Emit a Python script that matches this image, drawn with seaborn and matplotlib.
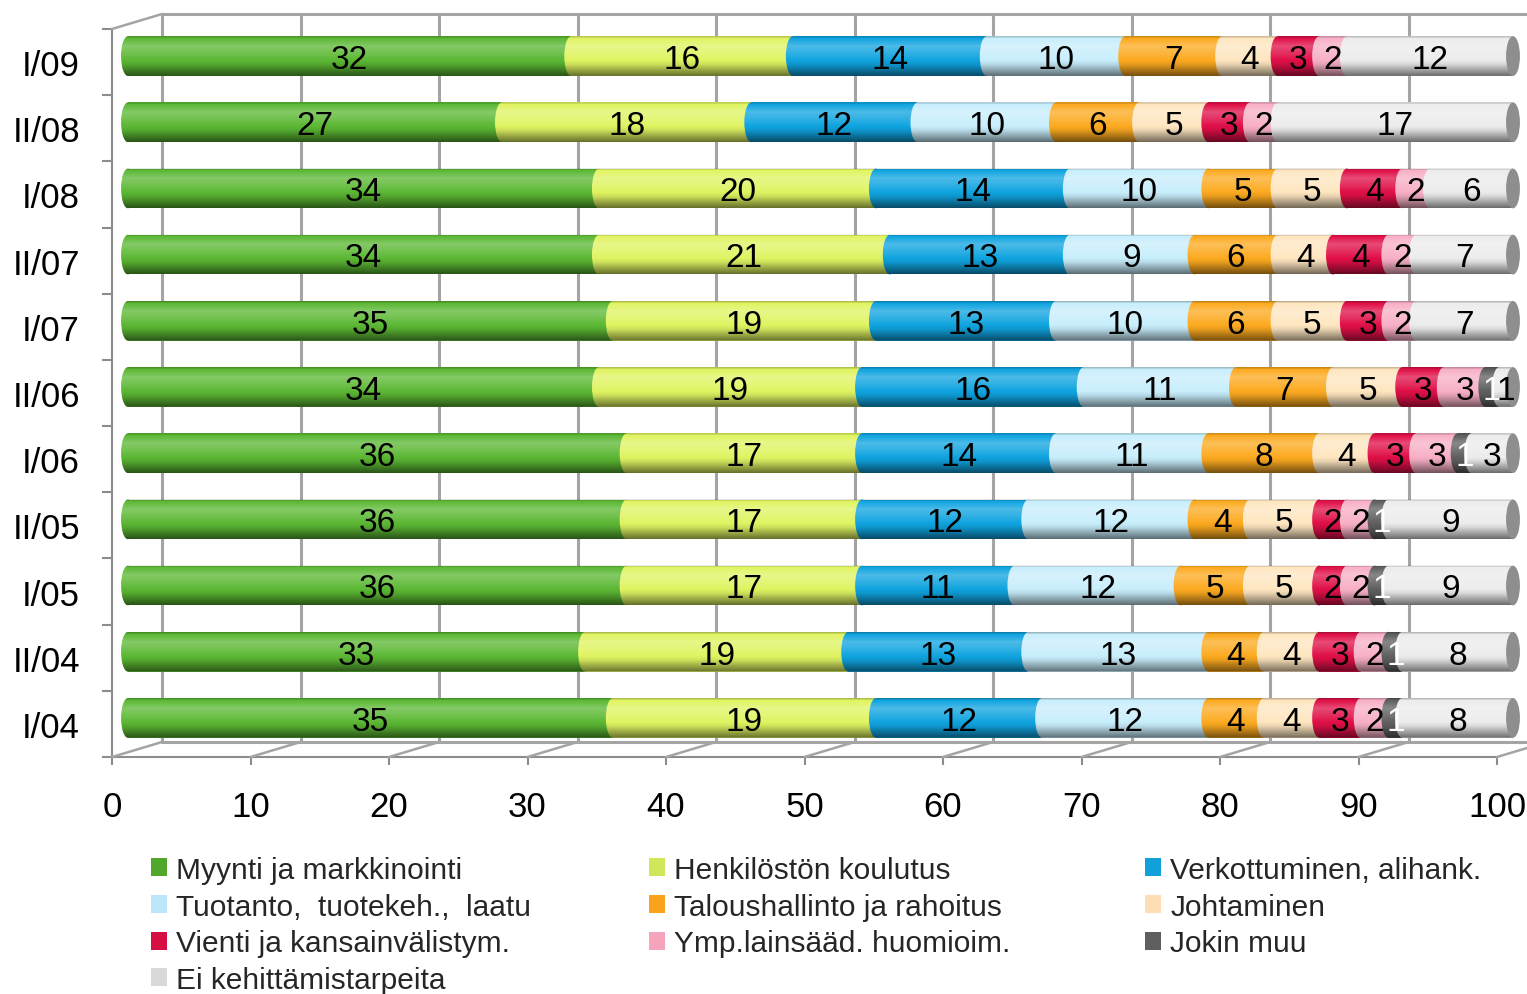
import numpy as np
import matplotlib
matplotlib.use('Agg')
import matplotlib.pyplot as plt
import matplotlib.transforms as mtransforms
from matplotlib.patches import Ellipse, Patch, ConnectionPatch
from matplotlib.path import Path
import seaborn as sns

# --- data ---
periods = ['I/09', 'II/08', 'I/08', 'II/07', 'I/07', 'II/06',
           'I/06', 'II/05', 'I/05', 'II/04', 'I/04']

myynti = [32, 27, 34, 34, 35, 34, 36, 36, 36, 33, 35]
henkilosto = [16, 18, 20, 21, 19, 19, 17, 17, 17, 19, 19]
verkottuminen = [14, 12, 14, 13, 13, 16, 14, 12, 11, 13, 12]
tuotanto = [10, 10, 10, 9, 10, 11, 11, 12, 12, 13, 12]
talous = [7, 6, 5, 6, 6, 7, 8, 4, 5, 4, 4]
johtaminen = [4, 5, 5, 4, 5, 5, 4, 5, 5, 4, 4]
vienti = [3, 3, 4, 4, 3, 3, 3, 2, 2, 3, 3]
ymparisto = [2, 2, 2, 2, 2, 3, 3, 2, 2, 2, 2]
jokin_muu = [0, 0, 0, 0, 0, 1, 1, 1, 1, 1, 1]
ei_tarvetta = [12, 17, 6, 7, 7, 1, 3, 9, 9, 8, 8]

series_names = ['Myynti ja markkinointi', 'Henkilöstön koulutus',
                'Verkottuminen, alihank.', 'Tuotanto,  tuotekeh.,  laatu',
                'Taloushallinto ja rahoitus', 'Johtaminen',
                'Vienti ja kansainvälistym.', 'Ymp.lainsääd. huomioim.',
                'Jokin muu', 'Ei kehittämistarpeita']
series_values = [myynti, henkilosto, verkottuminen, tuotanto, talous,
                 johtaminen, vienti, ymparisto, jokin_muu, ei_tarvetta]
series_colors = ['#5cb834', '#e0f462', '#10a4e0', '#c8eefc', '#fcaa20',
                 '#fee6c0', '#e01048', '#f8b0c6', '#606060', '#ececec']
legend_colors = ['#4fa82b', '#cfe85a', '#11a0d9', '#bde6f8', '#f9a21c',
                 '#fdddb4', '#d60f43', '#f5a4bb', '#5f5f5f', '#d9d9d9']

sns.set_theme(style='white')
plt.rcParams['font.family'] = ['Liberation Sans', 'DejaVu Sans']

W, H = 1527, 995
fig = plt.figure(figsize=(W / 100, H / 100), dpi=100)
ax = fig.add_axes([112 / W, 1 - 758 / H, 1385 / W, 728 / H])

grid_col = '#a4a4a4'
axis_col = '#8c8c8c'


def shifted(dx, dy):
    # pseudo-3D depth offset in pixels
    return ax.transData + mtransforms.ScaledTranslation(dx / 100, dy / 100, fig.dpi_scale_trans)


bar_tr = shifted(16, 6)
wall_tr = shifted(50, 15)
cap_w = 1.0
bar_h = 0.6

# stacked cylinders
left = np.zeros(len(periods))
rows = None
for name, vals, col in zip(series_names, series_values, series_colors):
    n0 = len(ax.patches)
    sns.barplot(x=vals, y=periods, order=periods, orient='y', color=col,
                width=bar_h, left=left, errorbar=None, saturation=1,
                linewidth=0, ax=ax, zorder=3)
    segs = ax.patches[n0:]
    if rows is None:
        rows = [(p.get_y(), p.get_height()) for p in segs]
    for p, v in zip(segs, vals):
        p.set_transform(bar_tr)
        p.set_clip_on(False)
        if v > 0:
            yc = p.get_y() + p.get_height() / 2
            e = Ellipse((p.get_x(), yc), cap_w, p.get_height(), facecolor=col,
                        edgecolor='none', transform=bar_tr, zorder=3, clip_on=False)
            ax.add_patch(e)
    left = left + np.array(vals)

# cylinder shading, one overlay per row
t = np.linspace(0, 1, 200)
shade = np.interp(t, [0, 0.06, 0.25, 0.45, 0.7, 0.88, 1.0],
                  [-0.28, 0.0, 0.25, 0.12, -0.08, -0.36, -0.55])
rgba = np.zeros((len(t), 2, 4))
rgba[shade > 0, :, :3] = 1.0
rgba[:, :, 3] = np.abs(shade)[:, None]

theta = np.linspace(np.pi / 2, 3 * np.pi / 2, 40)
for (y0, h), total in zip(rows, left):
    yc = y0 + h / 2
    im = ax.imshow(rgba, extent=(-cap_w / 2, total, yc + h / 2, yc - h / 2),
                   aspect='auto', interpolation='nearest', zorder=4)
    im.set_transform(bar_tr)
    xs = np.concatenate([cap_w / 2 * np.cos(theta), [total, total, 0]])
    ys = np.concatenate([yc + h / 2 * np.sin(theta), [yc - h / 2, yc + h / 2, yc + h / 2]])
    clip = Path(np.column_stack([xs, ys]), closed=False)
    im.set_clip_box(fig.bbox)
    im.set_clip_path(clip, bar_tr)
    end = Ellipse((total, yc), cap_w, h, facecolor='#8e8e8e', edgecolor='none',
                  transform=bar_tr, zorder=5, clip_on=False)
    ax.add_patch(end)

# value labels
left = np.zeros(len(periods))
for k, vals in enumerate(series_values):
    for i, v in enumerate(vals):
        if v > 0:
            y0, h = rows[i]
            ax.text(left[i] + v / 2, y0 + h / 2 + 0.05, str(v), transform=bar_tr,
                    ha='center', va='center', fontsize=24,
                    color='white' if k == 8 else 'black', zorder=10, clip_on=False)
    left = left + np.array(vals)

# walls, floor and axes
xticks = np.arange(0, 101, 10)
ax.vlines(xticks, -0.5, 10.5, colors=grid_col, linewidth=2.2, transform=wall_tr,
          zorder=1, clip_on=False)
ax.plot([0, 100], [-0.5, -0.5], color=grid_col, lw=2.2, transform=wall_tr, zorder=1, clip_on=False)
ax.plot([0, 100], [10.5, 10.5], color=grid_col, lw=2.2, transform=wall_tr, zorder=1, clip_on=False)
for x in xticks:
    cp = ConnectionPatch((x, 10.5), (x, 10.5), coordsA=ax.transData, coordsB=wall_tr,
                         color=grid_col, lw=1.8, zorder=1)
    fig.add_artist(cp)
cp = ConnectionPatch((0, -0.5), (0, -0.5), coordsA=ax.transData, coordsB=wall_tr,
                     color=grid_col, lw=1.8, zorder=1)
fig.add_artist(cp)

ax.set_xlim(0, 100)
ax.set_ylim(10.5, -0.5)
ax.set_xticks(xticks)
ax.set_xticklabels([str(x) for x in xticks])
ax.set_yticks(range(len(periods)))
ax.set_yticklabels(periods)
ax.set_yticks(np.arange(-0.5, 11, 1), minor=True)
ax.set_xlabel('')
ax.set_ylabel('')
for s in ['top', 'right']:
    ax.spines[s].set_visible(False)
for s in ['left', 'bottom']:
    ax.spines[s].set_color(axis_col)
    ax.spines[s].set_linewidth(1.5)
ax.tick_params(axis='y', which='major', length=0, pad=23, labelsize=25, labelcolor='black')
ax.tick_params(axis='y', which='minor', left=True, length=7, width=1.5, color=axis_col)
ax.tick_params(axis='x', which='major', bottom=True, length=6, width=1.5, color=axis_col,
               pad=18, labelsize=25, labelcolor='black')

# legend, three columns filled row by row
cols_x = [151, 649, 1145]
for c, x in enumerate(cols_x):
    idx = list(range(c, len(series_names), 3))
    handles = [Patch(facecolor=legend_colors[i], edgecolor='none') for i in idx]
    fig.legend(handles, [series_names[i] for i in idx], loc='upper left',
               bbox_to_anchor=(x / W, 1 - 857 / H), frameon=False, fontsize=21.5,
               handlelength=0.55, handleheight=0.55, handletextpad=0.3,
               labelspacing=0.29, borderpad=0, borderaxespad=0)

fig.savefig('out.png', dpi=100)
